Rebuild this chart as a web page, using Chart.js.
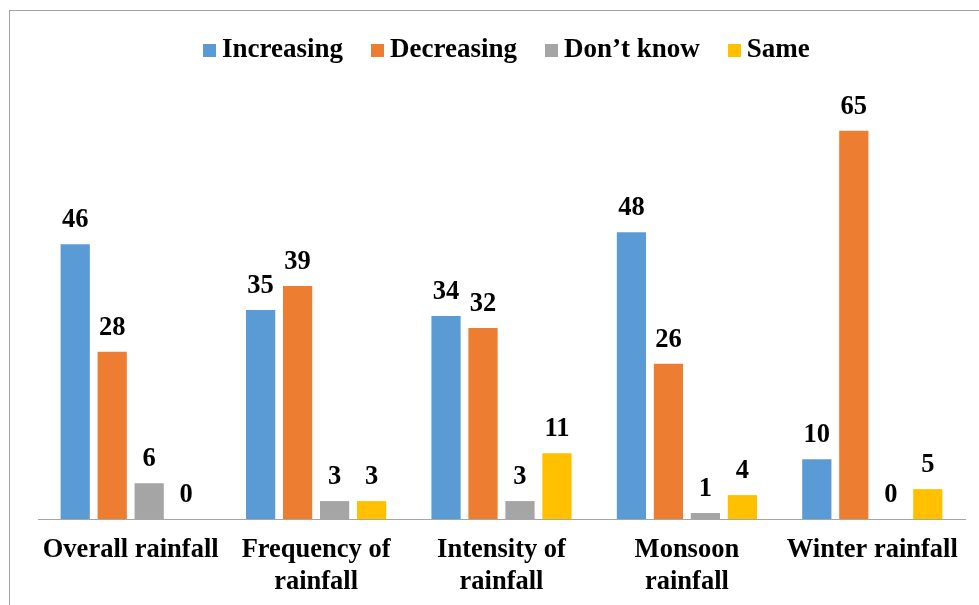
<!DOCTYPE html>
<html>
<head>
<meta charset="utf-8">
<script src="https://cdn.jsdelivr.net/npm/chart.js@4"></script>
<style>
  html, body { margin: 0; padding: 0; background: #fff; overflow: hidden; }
  #wrap { position: relative; width: 979px; height: 605px; }
  #frame {
    position: absolute; left: 9px; top: 10px; width: 1100px; height: 800px;
    border: 1px solid #a0a0a0; pointer-events: none;
  }
  #legend {
    position: absolute; left: 203px; top: 33px;
    font: bold 27px "Liberation Serif", "Times New Roman", serif;
    color: #000; white-space: nowrap; display: flex; align-items: baseline;
  }
  #legend .item { display: flex; align-items: baseline; margin-right: 28px; }
  #legend .box { display: inline-block; width: 13px; height: 13px; margin-right: 6px; }
</style>
</head>
<body>
<div id="wrap">
  <canvas id="rainChart" width="979" height="605"></canvas>
  <div id="legend"></div>
  <div id="frame"></div>
</div>
<script>
const categories = ["Overall rainfall", ["Frequency of", "rainfall"], ["Intensity of", "rainfall"], ["Monsoon", "rainfall"], "Winter rainfall"];
const seriesNames = ["Increasing", "Decreasing", "Don\u2019t know", "Same"];
const increasing = [46, 35, 34, 48, 10];
const decreasing = [28, 39, 32, 26, 65];
const dontKnow = [6, 3, 3, 1, 0];
const same = [0, 3, 11, 4, 5];
const colors = ["#5B9BD5", "#ED7D31", "#A5A5A5", "#FFC000"];

const font = "Liberation Serif";

// value labels above each bar
const barValues = {
    id: "barValues",
    afterDatasetsDraw(chart) {
        const ctx = chart.ctx;
        ctx.save();
        ctx.font = "bold 26.5px '" + font + "'";
        ctx.fillStyle = "#000";
        ctx.textAlign = "center";
        ctx.textBaseline = "alphabetic";
        chart.data.datasets.forEach((ds, i) => {
            const meta = chart.getDatasetMeta(i);
            meta.data.forEach((bar, j) => {
                ctx.fillText(String(ds.data[j]), bar.x, bar.y - 17);
            });
        });
        ctx.restore();
    }
};

const allSeries = [increasing, decreasing, dontKnow, same];

const chart = new Chart(document.getElementById("rainChart").getContext("2d"), {
    type: "bar",
    data: {
        labels: categories,
        datasets: allSeries.map((vals, i) => ({
            label: seriesNames[i],
            data: vals,
            backgroundColor: colors[i],
            borderWidth: 0,
            categoryPercentage: 0.798,
            barPercentage: 0.79
        }))
    },
    options: {
        responsive: false,
        devicePixelRatio: 1,
        animation: false,
        layout: { padding: { top: 101, left: 38, right: 14, bottom: 0 } },
        plugins: {
            legend: { display: false },
            tooltip: { enabled: false }
        },
        scales: {
            x: {
                grid: { display: false, drawTicks: false },
                border: { display: true, color: "#a6a6a6", width: 1 },
                ticks: {
                    color: "#000",
                    padding: 15,
                    maxRotation: 0,
                    autoSkip: false,
                    font: { family: font, size: 26.5, weight: "bold" }
                },
                afterFit(scale) { scale.height = 86; }
            },
            y: {
                display: false,
                min: 0,
                max: 70
            }
        }
    },
    plugins: [barValues]
});

// legend row
const legend = document.getElementById("legend");
seriesNames.forEach((name, i) => {
    const item = document.createElement("span");
    item.className = "item";
    const box = document.createElement("span");
    box.className = "box";
    box.style.background = colors[i];
    item.appendChild(box);
    item.appendChild(document.createTextNode(name));
    legend.appendChild(item);
});
</script>
</body>
</html>
